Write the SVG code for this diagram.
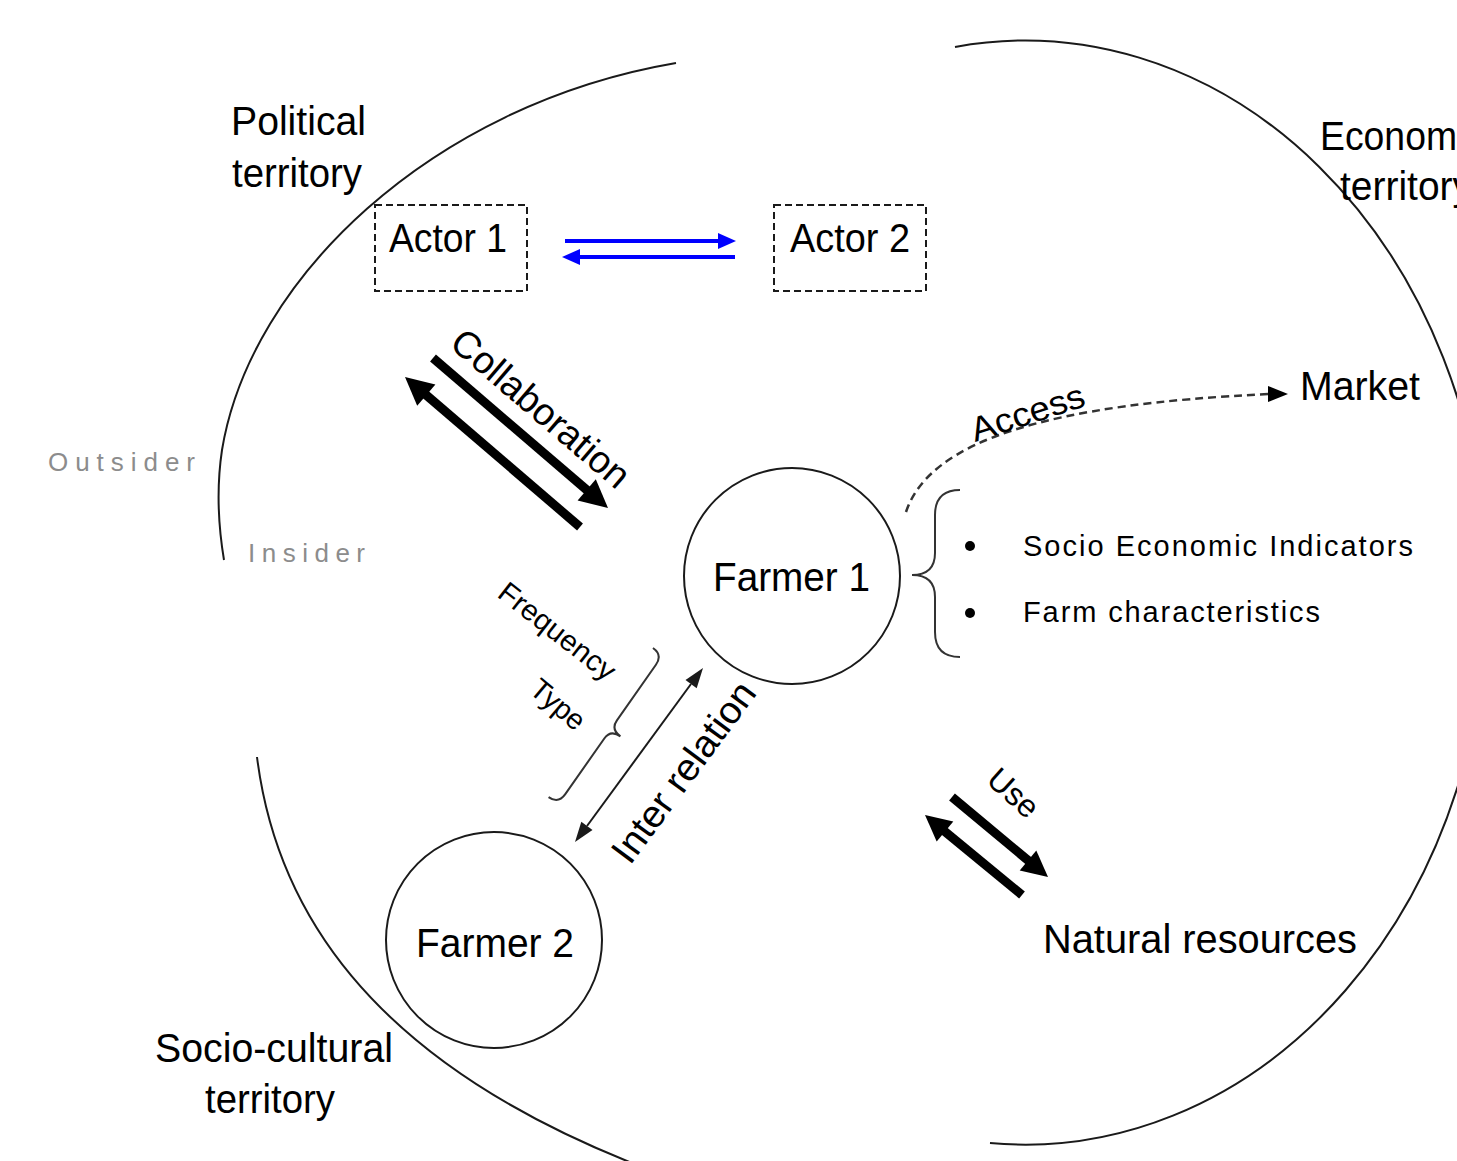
<svg xmlns="http://www.w3.org/2000/svg" width="1457" height="1161" viewBox="0 0 1457 1161">
<style>
text{font-family:"Liberation Sans",Arial,sans-serif;fill:#000}
.lbl{font-size:40px}
.sm{font-size:29px}
.gray{font-size:26px;fill:#8c8c8c;letter-spacing:5px}
.arc{fill:none;stroke:#1a1a1a;stroke-width:2}
.node{fill:#fff;stroke:#1a1a1a;stroke-width:2}
.box{fill:#fff;stroke:#1a1a1a;stroke-width:2;stroke-dasharray:7 4}
.thick{stroke:#000;stroke-width:9;fill:none}
.blue{stroke:#0000ff;stroke-width:4;fill:none}
.thin{stroke:#1a1a1a;stroke-width:2;fill:none}
.brace{stroke:#333;stroke-width:2;fill:none}
</style>
<rect width="1457" height="1161" fill="#fff"/>
<g id="territories">
<path class="arc" d="M 676 63 C 430 105, 250 280, 222 450 C 216 490, 219 530, 224 560"/>
<path class="arc" d="M 955 47 A 462 552 0 1 1 990 1143"/>
<path class="arc" d="M 257 757 C 275 900, 360 1060, 650 1170"/>
<text class="lbl" x="231" y="135" textLength="135" lengthAdjust="spacingAndGlyphs">Political</text>
<text class="lbl" x="232" y="187" textLength="130" lengthAdjust="spacingAndGlyphs">territory</text>
<text class="lbl" x="1320" y="150" textLength="164" lengthAdjust="spacingAndGlyphs">Economic</text>
<text class="lbl" x="1340" y="200" textLength="132" lengthAdjust="spacingAndGlyphs">territory</text>
<text class="lbl" x="155" y="1062" textLength="238" lengthAdjust="spacingAndGlyphs">Socio-cultural</text>
<text class="lbl" x="205" y="1113" textLength="130" lengthAdjust="spacingAndGlyphs">territory</text>
<text class="gray" x="48" y="471" textLength="152" lengthAdjust="spacing">Outsider</text>
<text class="gray" x="248" y="562" textLength="122" lengthAdjust="spacing">Insider</text>
</g>
<g id="actor1">
<rect class="box" x="375" y="205" width="152" height="86"/>
<text class="lbl" x="389" y="252" textLength="118" lengthAdjust="spacingAndGlyphs">Actor 1</text>
</g>
<g id="actor2">
<rect class="box" x="774" y="205" width="152" height="86"/>
<text class="lbl" x="790" y="252" textLength="120" lengthAdjust="spacingAndGlyphs">Actor 2</text>
</g>
<g id="farmer1">
<circle class="node" cx="792" cy="576" r="108"/>
<text class="lbl" x="713" y="591" textLength="157" lengthAdjust="spacingAndGlyphs">Farmer 1</text>
</g>
<g id="farmer2">
<circle class="node" cx="494" cy="940" r="108"/>
<text class="lbl" x="416" y="957" textLength="158" lengthAdjust="spacingAndGlyphs">Farmer 2</text>
</g>
<g id="market">
<text class="lbl" x="1300" y="400" textLength="120" lengthAdjust="spacingAndGlyphs">Market</text>
</g>
<g id="natural-resources">
<text class="lbl" x="1043" y="953" textLength="314" lengthAdjust="spacingAndGlyphs">Natural resources</text>
</g>
<g id="indicators">
<path class="brace" d="M 960 490 Q 935 490 935 515 L 935 553 Q 935 575 912 575 Q 935 575 935 597 L 935 632 Q 935 657 960 657"/>
<circle cx="970" cy="546" r="5" fill="#000"/>
<circle cx="970" cy="613" r="5" fill="#000"/>
<text class="sm" x="1023" y="556" textLength="390" lengthAdjust="spacing">Socio Economic Indicators</text>
<text class="sm" x="1023" y="622" textLength="297" lengthAdjust="spacing">Farm characteristics</text>
</g>
<g id="connectors">
<line class="blue" x1="565" y1="241" x2="720" y2="241"/>
<polygon points="736,241 718,233 718,249" fill="#0000ff"/>
<line class="blue" x1="735" y1="257" x2="578" y2="257"/>
<polygon points="562,257 580,249 580,265" fill="#0000ff"/>
<line class="thick" x1="433" y1="358" x2="588" y2="491"/>
<polygon points="608,508 595.8,479.2 577.6,500.4" fill="#000"/>
<line class="thick" x1="580" y1="527" x2="425" y2="394"/>
<polygon points="405,377 435.4,384.6 417.2,405.8" fill="#000"/>
<text transform="translate(448,346) rotate(40.6)" style="font-size:38px" textLength="222" lengthAdjust="spacingAndGlyphs">Collaboration</text>
<line class="thick" x1="952" y1="797" x2="1030" y2="862"/>
<polygon points="1048,877 1036.3,850.4 1019.7,870.4" fill="#000"/>
<line class="thick" x1="1022" y1="895" x2="943" y2="830"/>
<polygon points="925,815 953.3,821.6 936.7,841.6" fill="#000"/>
<text transform="translate(985,782) rotate(42)" style="font-size:32px" textLength="57" lengthAdjust="spacingAndGlyphs">Use</text>
<line class="thin" x1="691" y1="684" x2="587" y2="826"/>
<polygon points="703,668 696.7,688.3 685.5,680" fill="#1a1a1a"/>
<polygon points="575,842 592.5,830 581.3,821.7" fill="#1a1a1a"/>
<text transform="translate(630,866) rotate(-53.5)" style="font-size:38px" textLength="215" lengthAdjust="spacingAndGlyphs">Inter relation</text>
<path class="brace" transform="translate(662.8,654.9) rotate(35)" d="M -12 0 Q 0 0 0 12 L 0 80 Q 0 91 12 91 Q 0 91 0 102 L 0 170 Q 0 182 -12 182"/>
<text transform="translate(496,596) rotate(38)" style="font-size:29px" textLength="140" lengthAdjust="spacingAndGlyphs">Frequency</text>
<text transform="translate(528,692) rotate(40)" style="font-size:29px" textLength="62" lengthAdjust="spacingAndGlyphs">Type</text>
<path d="M 906 512 C 930 440, 1050 404, 1270 394" fill="none" stroke="#333" stroke-width="2.5" stroke-dasharray="8 5"/>
<polygon points="1288,394 1268,386 1268,402" fill="#000"/>
<text transform="translate(975,442) rotate(-18)" style="font-size:34px" textLength="118" lengthAdjust="spacingAndGlyphs">Access</text>
</g>
</svg>
